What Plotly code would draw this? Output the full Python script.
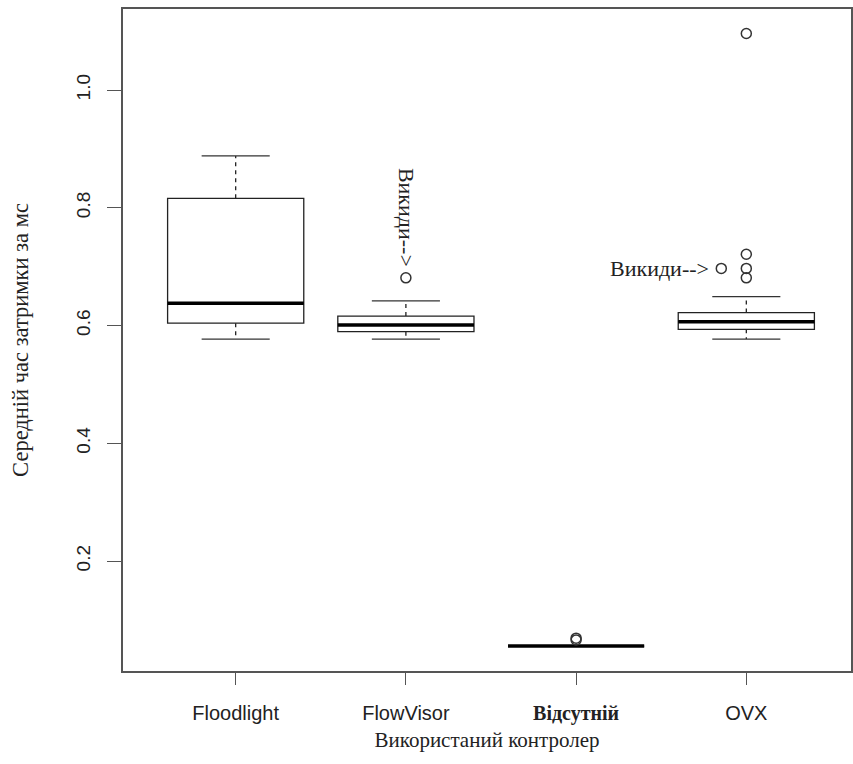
import plotly.graph_objects as go

# ---- data ----
categories = ["Floodlight", "FlowVisor", "Відсутній", "OVX"]
positions = [1, 2, 3, 4]
lower_whisker = [0.577, 0.577, 0.0555, 0.577]
q1 = [0.604, 0.5895, 0.0555, 0.5935]
median = [0.638, 0.601, 0.0555, 0.6065]
q3 = [0.816, 0.616, 0.0555, 0.622]
upper_whisker = [0.888, 0.642, 0.0555, 0.649]

outlier_x = [2, 3, 3, 4, 4, 4, 4]
outlier_y = [0.681, 0.069, 0.066, 1.096, 0.721, 0.697, 0.681]

extra_point_x = [3.853]
extra_point_y = [0.697]

y_tick_vals = [0.2, 0.4, 0.6, 0.8, 1.0]
y_tick_text = ["0.2", "0.4", "0.6", "0.8", "1.0"]

annot_text = "Викиди-->"
x_title = "Використаний контролер"
y_title = "Середній час затримки за мс"

BOX_W = 0.8
CAP_W = 0.4
LINE = "#222222"
SERIF = "Liberation Serif, Times New Roman, serif"
SANS = "Liberation Sans, Arial, sans-serif"

fig = go.Figure()

# boxes (whiskers drawn separately, R style)
fig.add_trace(go.Box(
    x=positions, q1=q1, median=median, q3=q3,
    lowerfence=q1, upperfence=q3,
    width=BOX_W, fillcolor="white",
    line=dict(color=LINE, width=1.3),
    boxpoints=False, showlegend=False, hoverinfo="skip",
))

# whiskers (dashed)
wx, wy = [], []
for p, lo, a, b, hi in zip(positions, lower_whisker, q1, q3, upper_whisker):
    wx += [p, p, None, p, p, None]
    wy += [b, hi, None, a, lo, None]
fig.add_trace(go.Scatter(x=wx, y=wy, mode="lines",
                         line=dict(color=LINE, width=1.3, dash="4px,4px"),
                         showlegend=False, hoverinfo="skip"))

# caps
cx, cy = [], []
for p, lo, hi in zip(positions, lower_whisker, upper_whisker):
    cx += [p - CAP_W / 2, p + CAP_W / 2, None, p - CAP_W / 2, p + CAP_W / 2, None]
    cy += [hi, hi, None, lo, lo, None]
fig.add_trace(go.Scatter(x=cx, y=cy, mode="lines",
                         line=dict(color="#333333", width=1.3),
                         showlegend=False, hoverinfo="skip"))

# medians (thick)
mx, my = [], []
for p, m in zip(positions, median):
    mx += [p - BOX_W / 2, p + BOX_W / 2, None]
    my += [m, m, None]
fig.add_trace(go.Scatter(x=mx, y=my, mode="lines",
                         line=dict(color="black", width=3.5),
                         showlegend=False, hoverinfo="skip"))

# outliers
fig.add_trace(go.Scatter(x=outlier_x + extra_point_x, y=outlier_y + extra_point_y,
                         mode="markers",
                         marker=dict(symbol="circle-open", size=10,
                                     color="#333333", line=dict(width=1.5)),
                         showlegend=False, hoverinfo="skip"))

# annotations
fig.add_annotation(x=2.008, y=0.784, text=annot_text, showarrow=False,
                   textangle=90, font=dict(family=SERIF, size=22, color="#222"))
fig.add_annotation(x=3.79, y=0.697, text=annot_text, showarrow=False,
                   xanchor="right", font=dict(family=SERIF, size=22, color="#222"))

tick_text = [
    c if c != "Відсутній" else
    '<span style="font-family:Liberation Serif, serif;font-weight:bold">' + c + "</span>"
    for c in categories
]

fig.update_layout(
    width=853, height=764,
    margin=dict(l=123, r=0, t=9, b=93),
    plot_bgcolor="white", paper_bgcolor="white",
    xaxis=dict(
        range=[0.338, 4.615], tickmode="array", tickvals=positions, ticktext=tick_text,
        showgrid=False, zeroline=False, showline=True, mirror=True,
        linecolor="#555555", linewidth=1.8,
        ticks="outside", ticklen=12, tickwidth=1.3, tickcolor="#555555",
        ticklabelstandoff=11,
        tickfont=dict(family=SANS, size=20, color="#222"),
        title=dict(text=x_title, font=dict(family=SERIF, size=21, color="#222"), standoff=8),
    ),
    yaxis=dict(
        range=[0.0132, 1.1376], tickmode="array", tickvals=y_tick_vals, ticktext=y_tick_text,
        showgrid=False, zeroline=False, showline=True, mirror=True,
        linecolor="#555555", linewidth=1.8,
        ticks="outside", ticklen=14, tickwidth=1.3, tickcolor="#555555",
        tickangle=-90, ticklabelstandoff=10,
        tickfont=dict(family=SANS, size=19, color="#222"),
        title=dict(text=y_title, font=dict(family=SERIF, size=22.5, color="#222"), standoff=38),
    ),
)

fig.write_html("out.html")
